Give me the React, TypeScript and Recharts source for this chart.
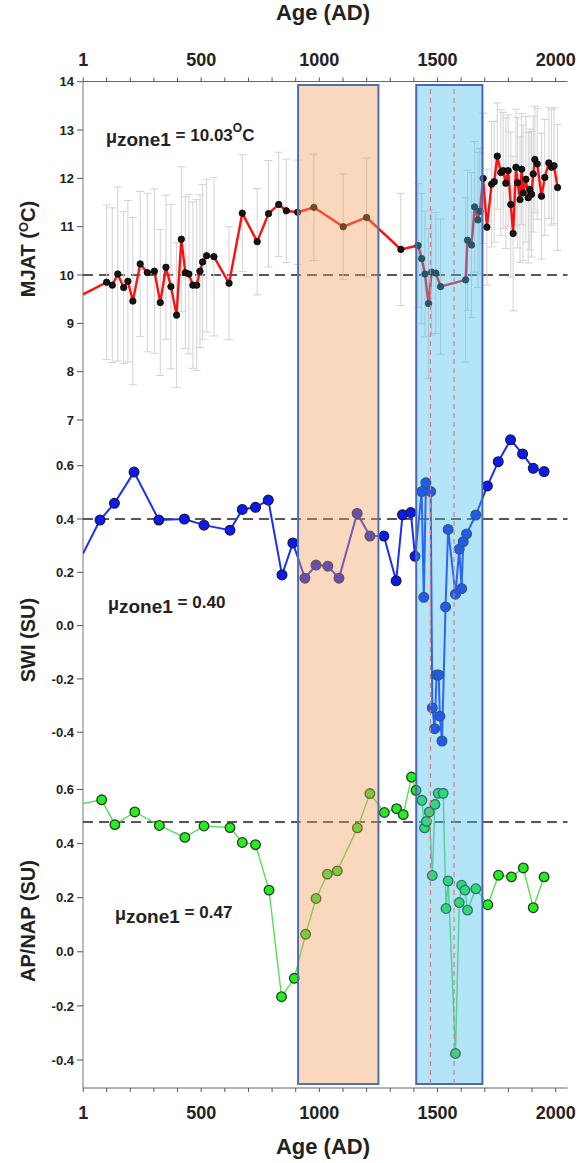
import React from "react";
import { LineChart, Line, XAxis, YAxis, ErrorBar, ReferenceArea, ReferenceLine } from "recharts";

const W = 579;
const H = 1163;
const LEFT = 83;
const RIGHT = 11.5;
const X_DOMAIN: [number, number] = [0, 2050];
const FONT = "'Liberation Sans', Arial, Helvetica, sans-serif";

// ---------- axis ticks ----------
const xTicks = [1, 100, 200, 300, 400, 500, 600, 700, 800, 900, 1000, 1100, 1200, 1300, 1400, 1500, 1600, 1700, 1800, 1900, 2000];
const xLabelTicks = [1, 500, 1000, 1500, 2000];
const xTickLabels = ["1", "500", "1000", "1500", "2000"];

// ---------- MJAT ----------
const mjatYears = [0, 100, 124, 147, 172, 190, 211, 242, 272, 302, 327, 351, 372, 396, 416, 433, 448, 465, 481, 495, 506, 523, 554, 618, 674, 737, 785, 828, 860, 908, 977, 1101, 1200, 1345, 1418, 1433, 1447, 1462, 1475, 1493, 1513, 1619, 1627, 1644, 1657, 1671, 1679, 1693, 1709, 1729, 1740, 1753, 1768, 1778, 1789, 1799, 1810, 1820, 1832, 1839, 1849, 1856, 1862, 1874, 1884, 1891, 1898, 1905, 1912, 1922, 1940, 1954, 1971, 1982, 1993, 2008];
const mjatValues = [9.6, 9.85, 9.79, 10.02, 9.74, 9.87, 9.46, 10.23, 10.05, 10.08, 9.43, 10.16, 9.76, 9.17, 10.74, 10.05, 10.02, 9.79, 9.79, 10.08, 10.27, 10.4, 10.38, 9.83, 11.28, 10.69, 11.27, 11.46, 11.33, 11.3, 11.4, 11.0, 11.19, 10.53, 10.61, 10.34, 10.02, 9.41, 10.06, 10.04, 9.76, 9.9, 10.72, 10.62, 11.41, 11.14, 11.32, 12.0, 10.99, 11.88, 11.93, 12.46, 12.12, 12.16, 11.9, 12.16, 11.46, 10.86, 12.23, 11.91, 11.56, 12.19, 11.7, 11.98, 11.6, 11.77, 11.67, 12.09, 12.39, 12.3, 11.63, 12.02, 12.32, 12.23, 12.26, 11.81];
const mjatErrors = [0, 1.6, 1.6, 1.8, 1.57, 1.67, 1.73, 1.5, 1.64, 1.7, 1.51, 1.49, 1.7, 1.5, 1.5, 1.57, 1.65, 1.72, 1.77, 1.58, 1.6, 1.58, 1.64, 1.17, 1.21, 1.1, 1.1, 1.08, 1.07, 1.08, 1.1, 1.09, 1.23, 1.16, 1.28, 1.35, 1.3, 1.55, 1.3, 1.25, 1.4, 1.7, 1.45, 1.5, 1.35, 1.4, 1.3, 1.35, 1.2, 1.3, 1.25, 1.1, 1.3, 1.2, 1.35, 1.15, 1.5, 1.6, 1.2, 1.35, 1.3, 1.15, 1.4, 1.3, 1.35, 1.25, 1.3, 1.2, 1.1, 1.15, 1.3, 1.2, 1.15, 1.2, 1.2, 1.3];
const mjatTicks = [7, 8, 9, 10, 11, 12, 13, 14];
const mjatMean = 10;

// ---------- SWI ----------
const swiYears = [0, 72, 133, 216, 321, 429, 512, 622, 674, 730, 784, 842, 888, 939, 986, 1036, 1083, 1160, 1214, 1273, 1325, 1352, 1387, 1405, 1433, 1442, 1451, 1471, 1478, 1488, 1496, 1505, 1510, 1519, 1534, 1545, 1576, 1592, 1602, 1609, 1623, 1662, 1711, 1757, 1809, 1860, 1905, 1951];
const swiValues = [0.27, 0.396, 0.459, 0.576, 0.396, 0.4, 0.377, 0.358, 0.436, 0.444, 0.471, 0.19, 0.31, 0.178, 0.227, 0.223, 0.178, 0.421, 0.336, 0.336, 0.168, 0.416, 0.424, 0.26, 0.503, 0.106, 0.536, 0.503, -0.309, -0.387, -0.185, -0.185, -0.34, -0.433, 0.07, 0.361, 0.118, 0.287, 0.139, 0.315, 0.344, 0.415, 0.524, 0.615, 0.697, 0.644, 0.59, 0.578];
const swiTicks = [-0.4, -0.2, 0, 0.2, 0.4, 0.6];
const swiMean = 0.4;

// ---------- AP/NAP ----------
const apYears = [0, 79, 135, 219, 323, 431, 512, 622, 674, 730, 787, 840, 894, 942, 986, 1034, 1076, 1161, 1214, 1275, 1327, 1355, 1390, 1409, 1434, 1445, 1453, 1465, 1478, 1489, 1503, 1524, 1536, 1545, 1576, 1592, 1602, 1616, 1627, 1662, 1713, 1758, 1813, 1863, 1905, 1951];
const apValues = [0.548, 0.562, 0.47, 0.517, 0.467, 0.423, 0.465, 0.459, 0.404, 0.396, 0.228, -0.166, -0.098, 0.065, 0.197, 0.287, 0.299, 0.458, 0.585, 0.515, 0.529, 0.507, 0.646, 0.597, 0.56, 0.458, 0.482, 0.517, 0.282, 0.545, 0.586, 0.586, 0.16, 0.262, -0.376, 0.182, 0.246, 0.228, 0.154, 0.233, 0.174, 0.283, 0.277, 0.31, 0.163, 0.277];
const apTicks = [-0.4, -0.2, 0, 0.2, 0.4, 0.6];
const apMean = 0.48;

// ---------- shaded zones ----------
const warmZone = [910, 1250];
const coldZone = [1410, 1690];
const eventLines = [1470, 1570];

const mjatData = mjatYears.map((year, i) => ({ year, v: mjatValues[i], err: i === 0 ? null : mjatErrors[i] }));
const swiData = swiYears.map((year, i) => ({ year, v: swiValues[i] }));
const apData = apYears.map((year, i) => ({ year, v: apValues[i] }));
const frameData = [{ year: 0, f: 0 }, { year: 2050, f: 1 }];

const makeDot = (r: number, fill: string, stroke: string, sw: number) => (props: any) => {
  const { cx, cy, index } = props;
  if (index === 0 || cx == null || cy == null) return <g key={`d${index}`} />;
  return <circle key={`d${index}`} cx={cx} cy={cy} r={r} fill={fill} stroke={stroke} strokeWidth={sw} />;
};

const TopTick = (props: any) => {
  const { x, y, payload } = props;
  const i = xLabelTicks.indexOf(payload.value);
  if (i < 0) return <g />;
  return (
    <text x={x} y={y} dy={-4} textAnchor="middle" fontSize={18} fontWeight={700} fontFamily={FONT} fill="#222">
      {xTickLabels[i]}
    </text>
  );
};
const BottomTick = (props: any) => {
  const { x, y, payload } = props;
  const i = xLabelTicks.indexOf(payload.value);
  if (i < 0) return <g />;
  return (
    <text x={x} y={y} dy={19} textAnchor="middle" fontSize={18} fontWeight={700} fontFamily={FONT} fill="#222">
      {xTickLabels[i]}
    </text>
  );
};

const yTickStyle = { fontSize: 13, fontWeight: 700, fill: "#222", fontFamily: FONT };
const layer: React.CSSProperties = { position: "absolute", left: 0, top: 0 };

function Panel(props: {
  data: any[];
  top: number;
  bottom: number;
  domain: [number, number];
  ticks: number[];
  fmt: (v: number) => string;
  mean: number;
  children: React.ReactNode;
}) {
  const { data, top, bottom, domain, ticks, fmt, mean, children } = props;
  return (
    <div style={layer}>
      <LineChart width={W} height={H} data={data} margin={{ top, right: RIGHT, bottom: H - bottom, left: 0 }}>
        <XAxis dataKey="year" type="number" domain={X_DOMAIN} hide height={0} allowDataOverflow />
        <YAxis
          type="number"
          width={LEFT}
          domain={domain}
          ticks={ticks}
          interval={0}
          allowDataOverflow
          tickFormatter={fmt}
          axisLine={false}
          tickLine={{ stroke: "#555" }}
          tickSize={6}
          tickMargin={3}
          tick={yTickStyle}
        />
        <ReferenceLine y={mean} stroke="#222" strokeDasharray="10 6" strokeWidth={1.6} />
        {children}
      </LineChart>
    </div>
  );
}

export default function App() {
  return (
    <div style={{ position: "absolute", left: 0, top: 0, width: W, height: H, background: "#fff" }}>
      {/* frame: axes */}
      <div style={layer}>
        <LineChart width={W} height={H} data={frameData} margin={{ top: 0, right: RIGHT, bottom: 0, left: 0 }}>
          <XAxis
            xAxisId="top"
            orientation="top"
            dataKey="year"
            type="number"
            domain={X_DOMAIN}
            ticks={xTicks}
            interval={0}
            height={81.5}
            allowDataOverflow
            tick={<TopTick />}
            tickSize={4}
            tickMargin={8}
            tickLine={{ stroke: "#555" }}
            axisLine={{ stroke: "#666" }}
          />
          <XAxis
            xAxisId="bottom"
            orientation="bottom"
            dataKey="year"
            type="number"
            domain={X_DOMAIN}
            ticks={xTicks}
            interval={0}
            height={75}
            allowDataOverflow
            tick={<BottomTick />}
            tickSize={4}
            tickMargin={8}
            tickLine={{ stroke: "#555" }}
            axisLine={{ stroke: "#666" }}
          />
          <YAxis width={LEFT} domain={[0, 1]} tick={false} tickLine={false} axisLine={{ stroke: "#777" }} />
          <Line xAxisId="top" dataKey="f" stroke="none" dot={false} isAnimationActive={false} />
          <Line xAxisId="bottom" dataKey="f" stroke="none" dot={false} isAnimationActive={false} />
        </LineChart>
      </div>

      {/* MJAT */}
      <Panel data={mjatData} top={81.7} bottom={420} domain={[7, 14]} ticks={mjatTicks} fmt={(v) => String(v)} mean={mjatMean}>
        <Line dataKey="v" stroke="none" dot={false} isAnimationActive={false}>
          <ErrorBar dataKey="err" width={4} stroke="#d2d2d2" strokeWidth={1} direction="y" />
        </Line>
        <Line dataKey="v" stroke="#ff1010" strokeWidth={2.4} dot={makeDot(3.2, "#151515", "#000", 0.8)} isAnimationActive={false} />
      </Panel>

      {/* SWI */}
      <Panel data={swiData} top={412.4} bottom={758.85} domain={[-0.5, 0.8]} ticks={swiTicks} fmt={(v) => v.toFixed(1)} mean={swiMean}>
        <Line dataKey="v" stroke="#1a2ef5" strokeWidth={2} dot={makeDot(4.9, "#0a1af0", "#1a1a3a", 1.2)} isAnimationActive={false} />
      </Panel>

      {/* AP/NAP */}
      <Panel data={apData} top={762.45} bottom={1087.05} domain={[-0.5, 0.7]} ticks={apTicks} fmt={(v) => v.toFixed(1)} mean={apMean}>
        <Line dataKey="v" stroke="#55e055" strokeWidth={1.4} dot={makeDot(4.8, "#22ee22", "#2a3a2a", 1.3)} isAnimationActive={false} />
      </Panel>

      {/* shaded zones on top (semi-transparent) */}
      <div style={layer}>
        <LineChart width={W} height={H} data={frameData} margin={{ top: 85, right: RIGHT, bottom: H - 1084, left: LEFT }}>
          <XAxis dataKey="year" type="number" domain={X_DOMAIN} hide height={0} allowDataOverflow />
          <YAxis hide width={0} domain={[0, 1]} />
          <Line dataKey="f" stroke="none" dot={false} isAnimationActive={false} />
          <ReferenceArea x1={warmZone[0]} x2={warmZone[1]} fill="#f29d5c" fillOpacity={0.4} stroke="#5070b0" strokeWidth={2} ifOverflow="visible" />
          <ReferenceArea x1={coldZone[0]} x2={coldZone[1]} fill="#43bbed" fillOpacity={0.4} stroke="#4a68aa" strokeWidth={2} ifOverflow="visible" />
          {eventLines.map((x) => (
            <ReferenceLine key={x} x={x} stroke="#e07a80" strokeDasharray="5 4" strokeWidth={1.2} />
          ))}
        </LineChart>
      </div>

      {/* titles and annotations */}
      <svg width={W} height={H} style={{ ...layer, pointerEvents: "none" }} fontFamily={FONT} fontWeight={700} fill="#222">
        <text x={323} y={20} fontSize={22} textAnchor="middle">Age (AD)</text>
        <text x={323} y={1154} fontSize={22} textAnchor="middle">Age (AD)</text>

        <text transform="translate(35,249) rotate(-90)" fontSize={20} textAnchor="middle">
          MJAT (<tspan dy={-7} fontSize={13}>O</tspan><tspan dy={7}>C)</tspan>
        </text>
        <text transform="translate(35,640) rotate(-90)" fontSize={20} textAnchor="middle">SWI (SU)</text>
        <text transform="translate(35,921) rotate(-90)" fontSize={20} textAnchor="middle">AP/NAP (SU)</text>

        <text x={106} y={143} fontSize={18}>
          μ<tspan y={146} fontSize={19}>zone1</tspan>
          <tspan y={141} fontSize={17}> = 10.03</tspan>
          <tspan y={131.5} fontSize={12}>O</tspan>
          <tspan y={141} fontSize={17}>C</tspan>
        </text>
        <text x={108} y={610} fontSize={18}>
          μ<tspan y={613} fontSize={19}>zone1</tspan>
          <tspan y={608} fontSize={17}> = 0.40</tspan>
        </text>
        <text x={115} y={920} fontSize={18}>
          μ<tspan y={923} fontSize={19}>zone1</tspan>
          <tspan y={918} fontSize={17}> = 0.47</tspan>
        </text>
      </svg>
    </div>
  );
}
